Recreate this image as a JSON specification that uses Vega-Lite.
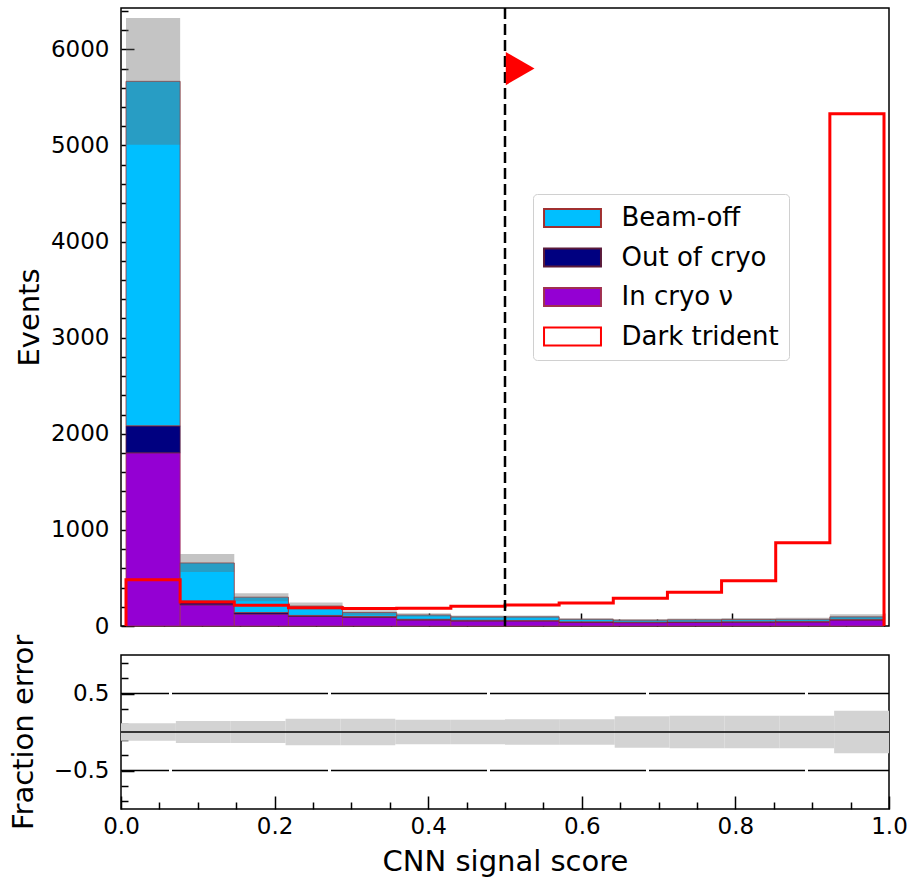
{
  "$schema": "https://vega.github.io/schema/vega-lite/v6.json",
  "background": "white",
  "padding": {"left": 8, "top": 6, "right": 0, "bottom": 0},
  "spacing": -6,
  "config": {
    "font": "DejaVu Sans",
    "view": {"stroke": "#000000", "strokeWidth": 1.5},
    "axis": {
      "domain": false,
      "grid": false,
      "zindex": 1,
      "tickColor": "#000000",
      "tickWidth": 1.5,
      "labelColor": "#000000",
      "titleColor": "#000000",
      "labelFont": "DejaVu Sans",
      "titleFont": "DejaVu Sans",
      "labelFontSize": 23,
      "titleFontSize": 29,
      "titleFontWeight": "normal",
      "labelOverlap": false,
      "labelFlush": false
    }
  },
  "datasets": {
    "stack": [
      {"lo": 0.0, "hi": 0.07143, "component": "In cryo ν", "events": 1802},
      {"lo": 0.0, "hi": 0.07143, "component": "Out of cryo", "events": 281},
      {"lo": 0.0, "hi": 0.07143, "component": "Beam-off", "events": 3584},
      {"lo": 0.07143, "hi": 0.14286, "component": "In cryo ν", "events": 220},
      {"lo": 0.07143, "hi": 0.14286, "component": "Out of cryo", "events": 40},
      {"lo": 0.07143, "hi": 0.14286, "component": "Beam-off", "events": 396},
      {"lo": 0.14286, "hi": 0.21429, "component": "In cryo ν", "events": 125},
      {"lo": 0.14286, "hi": 0.21429, "component": "Out of cryo", "events": 15},
      {"lo": 0.14286, "hi": 0.21429, "component": "Beam-off", "events": 160},
      {"lo": 0.21429, "hi": 0.28571, "component": "In cryo ν", "events": 100},
      {"lo": 0.21429, "hi": 0.28571, "component": "Out of cryo", "events": 10},
      {"lo": 0.21429, "hi": 0.28571, "component": "Beam-off", "events": 98},
      {"lo": 0.28571, "hi": 0.35714, "component": "In cryo ν", "events": 90},
      {"lo": 0.28571, "hi": 0.35714, "component": "Out of cryo", "events": 10},
      {"lo": 0.28571, "hi": 0.35714, "component": "Beam-off", "events": 40},
      {"lo": 0.35714, "hi": 0.42857, "component": "In cryo ν", "events": 62},
      {"lo": 0.35714, "hi": 0.42857, "component": "Out of cryo", "events": 8},
      {"lo": 0.35714, "hi": 0.42857, "component": "Beam-off", "events": 45},
      {"lo": 0.42857, "hi": 0.5, "component": "In cryo ν", "events": 52},
      {"lo": 0.42857, "hi": 0.5, "component": "Out of cryo", "events": 8},
      {"lo": 0.42857, "hi": 0.5, "component": "Beam-off", "events": 35},
      {"lo": 0.5, "hi": 0.57143, "component": "In cryo ν", "events": 52},
      {"lo": 0.5, "hi": 0.57143, "component": "Out of cryo", "events": 6},
      {"lo": 0.5, "hi": 0.57143, "component": "Beam-off", "events": 37},
      {"lo": 0.57143, "hi": 0.64286, "component": "In cryo ν", "events": 38},
      {"lo": 0.57143, "hi": 0.64286, "component": "Out of cryo", "events": 5},
      {"lo": 0.57143, "hi": 0.64286, "component": "Beam-off", "events": 27},
      {"lo": 0.64286, "hi": 0.71429, "component": "In cryo ν", "events": 35},
      {"lo": 0.64286, "hi": 0.71429, "component": "Out of cryo", "events": 4},
      {"lo": 0.64286, "hi": 0.71429, "component": "Beam-off", "events": 21},
      {"lo": 0.71429, "hi": 0.78571, "component": "In cryo ν", "events": 38},
      {"lo": 0.71429, "hi": 0.78571, "component": "Out of cryo", "events": 4},
      {"lo": 0.71429, "hi": 0.78571, "component": "Beam-off", "events": 23},
      {"lo": 0.78571, "hi": 0.85714, "component": "In cryo ν", "events": 40},
      {"lo": 0.78571, "hi": 0.85714, "component": "Out of cryo", "events": 4},
      {"lo": 0.78571, "hi": 0.85714, "component": "Beam-off", "events": 24},
      {"lo": 0.85714, "hi": 0.92857, "component": "In cryo ν", "events": 42},
      {"lo": 0.85714, "hi": 0.92857, "component": "Out of cryo", "events": 4},
      {"lo": 0.85714, "hi": 0.92857, "component": "Beam-off", "events": 24},
      {"lo": 0.92857, "hi": 1.0, "component": "In cryo ν", "events": 62},
      {"lo": 0.92857, "hi": 1.0, "component": "Out of cryo", "events": 5},
      {"lo": 0.92857, "hi": 1.0, "component": "Beam-off", "events": 28}
    ],
    "band": [
      {"lo": 0.0, "hi": 0.07143, "low": 5007, "high": 6327},
      {"lo": 0.07143, "hi": 0.14286, "low": 562, "high": 750},
      {"lo": 0.14286, "hi": 0.21429, "low": 258, "high": 342},
      {"lo": 0.21429, "hi": 0.28571, "low": 172, "high": 244},
      {"lo": 0.28571, "hi": 0.35714, "low": 115, "high": 165},
      {"lo": 0.35714, "hi": 0.42857, "low": 97, "high": 133},
      {"lo": 0.42857, "hi": 0.5, "low": 80, "high": 110},
      {"lo": 0.5, "hi": 0.57143, "low": 80, "high": 110},
      {"lo": 0.57143, "hi": 0.64286, "low": 59, "high": 81},
      {"lo": 0.64286, "hi": 0.71429, "low": 47, "high": 73},
      {"lo": 0.71429, "hi": 0.78571, "low": 51, "high": 79},
      {"lo": 0.78571, "hi": 0.85714, "low": 54, "high": 82},
      {"lo": 0.85714, "hi": 0.92857, "low": 55, "high": 85},
      {"lo": 0.92857, "hi": 1.0, "low": 69, "high": 121}
    ],
    "trident": [
      {"x": 0.0, "events": 0},
      {"x": 0.0, "events": 480},
      {"x": 0.07143, "events": 250},
      {"x": 0.14286, "events": 215},
      {"x": 0.21429, "events": 190},
      {"x": 0.28571, "events": 183},
      {"x": 0.35714, "events": 185},
      {"x": 0.42857, "events": 205},
      {"x": 0.5, "events": 218},
      {"x": 0.57143, "events": 240},
      {"x": 0.64286, "events": 290},
      {"x": 0.71429, "events": 350},
      {"x": 0.78571, "events": 470},
      {"x": 0.85714, "events": 865},
      {"x": 0.92857, "events": 5330},
      {"x": 1.0, "events": 5330},
      {"x": 1.0, "events": 0}
    ],
    "frac": [
      {"lo": 0.0, "hi": 0.07143, "low": -0.113, "high": 0.113},
      {"lo": 0.07143, "hi": 0.14286, "low": -0.143, "high": 0.143},
      {"lo": 0.14286, "hi": 0.21429, "low": -0.143, "high": 0.143},
      {"lo": 0.21429, "hi": 0.28571, "low": -0.172, "high": 0.172},
      {"lo": 0.28571, "hi": 0.35714, "low": -0.172, "high": 0.172},
      {"lo": 0.35714, "hi": 0.42857, "low": -0.16, "high": 0.16},
      {"lo": 0.42857, "hi": 0.5, "low": -0.16, "high": 0.16},
      {"lo": 0.5, "hi": 0.57143, "low": -0.165, "high": 0.165},
      {"lo": 0.57143, "hi": 0.64286, "low": -0.165, "high": 0.165},
      {"lo": 0.64286, "hi": 0.71429, "low": -0.205, "high": 0.205},
      {"lo": 0.71429, "hi": 0.78571, "low": -0.21, "high": 0.21},
      {"lo": 0.78571, "hi": 0.85714, "low": -0.21, "high": 0.21},
      {"lo": 0.85714, "hi": 0.92857, "low": -0.21, "high": 0.21},
      {"lo": 0.92857, "hi": 1.0, "low": -0.275, "high": 0.275}
    ]
  },
  "vconcat": [
    {
      "width": 768,
      "height": 618,
      "resolve": {"axis": {"x": "independent", "y": "independent"}},
      "layer": [
        {
          "data": {"name": "stack"},
          "transform": [
            {"calculate": "indexof(['In cryo ν', 'Out of cryo', 'Beam-off'], datum.component)", "as": "stack_rank"}
          ],
          "mark": {"type": "bar", "orient": "vertical", "strokeWidth": 0.8, "opacity": 1},
          "encoding": {
            "x": {
              "field": "lo", "type": "quantitative",
              "scale": {"domain": [0, 1], "nice": false, "zero": false},
              "axis": {
                "orient": "bottom",
                "title": null,
                "labels": false,
                "tickSize": -13,
                "values": [0, 0.2, 0.4, 0.6, 0.8, 1.0]
              }
            },
            "x2": {"field": "hi"},
            "y": {
              "field": "events", "type": "quantitative", "stack": "zero",
              "scale": {"domain": [0, 6430], "nice": false, "zero": true},
              "axis": {
                "orient": "left",
                "title": "Events",
                "titlePadding": 6,
                "format": "d",
                "tickSize": -13,
                "labelPadding": 25,
                "values": [0, 1000, 2000, 3000, 4000, 5000, 6000]
              }
            },
            "order": {"field": "stack_rank", "type": "quantitative"},
            "color": {
              "field": "component", "type": "nominal",
              "sort": ["Beam-off", "Out of cryo", "In cryo ν", "Dark trident"],
              "scale": {
                "domain": ["Beam-off", "Out of cryo", "In cryo ν", "Dark trident"],
                "range": ["#00bfff", "#000080", "#9400d3", "#ffffff"]
              },
              "legend": {
                "title": null,
                "orient": "none",
                "legendX": 412,
                "legendY": 186,
                "direction": "vertical",
                "symbolType": "M-2.19,-0.69H2.19V0.69H-2.19Z",
                "symbolSize": 676,
                "symbolOffset": 15.5,
                "symbolStrokeWidth": 2,
                "symbolOpacity": 1,
                "labelFontSize": 26,
                "labelFont": "DejaVu Sans",
                "labelColor": "#000000",
                "labelOffset": 35,
                "labelLimit": 400,
                "rowPadding": 12.5,
                "padding": 10,
                "strokeColor": "#d0d0d0",
                "fillColor": "#ffffff",
                "cornerRadius": 4
              }
            },
            "stroke": {
              "field": "component", "type": "nominal",
              "sort": ["Beam-off", "Out of cryo", "In cryo ν", "Dark trident"],
              "scale": {
                "domain": ["Beam-off", "Out of cryo", "In cryo ν", "Dark trident"],
                "range": ["#a03030", "#5a1a3a", "#a03050", "#ff0000"]
              }
            }
          }
        },
        {
          "data": {"name": "band"},
          "mark": {"type": "rect", "fill": "#676767", "opacity": 0.39},
          "encoding": {
            "x": {"field": "lo", "type": "quantitative", "axis": null},
            "x2": {"field": "hi"},
            "y": {"field": "low", "type": "quantitative", "axis": null},
            "y2": {"field": "high"}
          }
        },
        {
          "data": {"name": "trident"},
          "mark": {"type": "line", "color": "#ff0000", "strokeWidth": 3, "interpolate": "step-after"},
          "encoding": {
            "x": {"field": "x", "type": "quantitative", "axis": null},
            "y": {"field": "events", "type": "quantitative", "axis": null}
          }
        },
        {
          "data": {"values": [{"x": 0.5}]},
          "mark": {"type": "rule", "color": "#000000", "strokeWidth": 2.5, "strokeDash": [11, 5]},
          "encoding": {
            "x": {
              "field": "x", "type": "quantitative",
              "axis": {
                "orient": "bottom",
                "title": null,
                "labels": false,
                "tickSize": -7,
                "values": [0.05, 0.1, 0.15, 0.25, 0.3, 0.35, 0.45, 0.5, 0.55, 0.65, 0.7, 0.75, 0.85, 0.9, 0.95]
              }
            }
          }
        },
        {
          "data": {"values": [{"x": 0.52, "y": 5800}]},
          "mark": {"type": "point", "shape": "triangle-right", "filled": true, "color": "#ff0000", "size": 1100, "opacity": 1},
          "encoding": {
            "x": {"field": "x", "type": "quantitative", "axis": null},
            "y": {
              "field": "y", "type": "quantitative",
              "axis": {
                "orient": "left",
                "title": null,
                "labels": false,
                "tickSize": -7,
                "values": [200, 400, 600, 800, 1200, 1400, 1600, 1800, 2200, 2400, 2600, 2800, 3200, 3400, 3600, 3800, 4200, 4400, 4600, 4800, 5200, 5400, 5600, 5800, 6200, 6400]
              }
            }
          }
        }
      ]
    },
    {
      "width": 768,
      "height": 154,
      "resolve": {"axis": {"x": "independent", "y": "independent"}},
      "layer": [
        {
          "data": {"name": "frac"},
          "mark": {"type": "rect", "fill": "#d3d3d3"},
          "encoding": {
            "x": {
              "field": "lo", "type": "quantitative",
              "scale": {"domain": [0, 1], "nice": false, "zero": false},
              "axis": {
                "orient": "bottom",
                "title": "CNN signal score",
                "titlePadding": 9,
                "tickSize": -13,
                "labelPadding": 19,
                "format": ".1f",
                "values": [0, 0.2, 0.4, 0.6, 0.8, 1.0]
              }
            },
            "x2": {"field": "hi"},
            "y": {
              "field": "low", "type": "quantitative",
              "scale": {"domain": [-1, 1], "nice": false, "zero": false},
              "axis": {
                "orient": "left",
                "title": "Fraction error",
                "titlePadding": 15,
                "tickSize": -13,
                "labelPadding": 25,
                "values": [-0.5, 0.5],
                "labelExpr": "datum.value > 0 ? '0.5' : '−0.5'"
              }
            },
            "y2": {"field": "high"}
          }
        },
        {
          "data": {"values": [{"y": 0.5}, {"y": -0.5}]},
          "mark": {"type": "rule", "color": "#000000", "strokeWidth": 1.5, "strokeDash": [156, 3], "strokeDashOffset": 75},
          "encoding": {
            "y": {
              "field": "y", "type": "quantitative",
              "axis": {
                "orient": "left",
                "title": null,
                "labels": false,
                "tickSize": -7,
                "values": [-0.9, -0.7, -0.3, -0.1, 0.1, 0.3, 0.7, 0.9]
              }
            }
          }
        },
        {
          "data": {"values": [{"y": 0}]},
          "mark": {"type": "rule", "color": "#000000", "strokeWidth": 1.5},
          "encoding": {
            "y": {"field": "y", "type": "quantitative", "axis": null},
            "x": {
              "datum": 0, "type": "quantitative",
              "axis": {
                "orient": "bottom",
                "title": null,
                "labels": false,
                "tickSize": -7,
                "values": [0.05, 0.1, 0.15, 0.25, 0.3, 0.35, 0.45, 0.5, 0.55, 0.65, 0.7, 0.75, 0.85, 0.9, 0.95]
              }
            },
            "x2": {"datum": 1}
          }
        }
      ]
    }
  ]
}
